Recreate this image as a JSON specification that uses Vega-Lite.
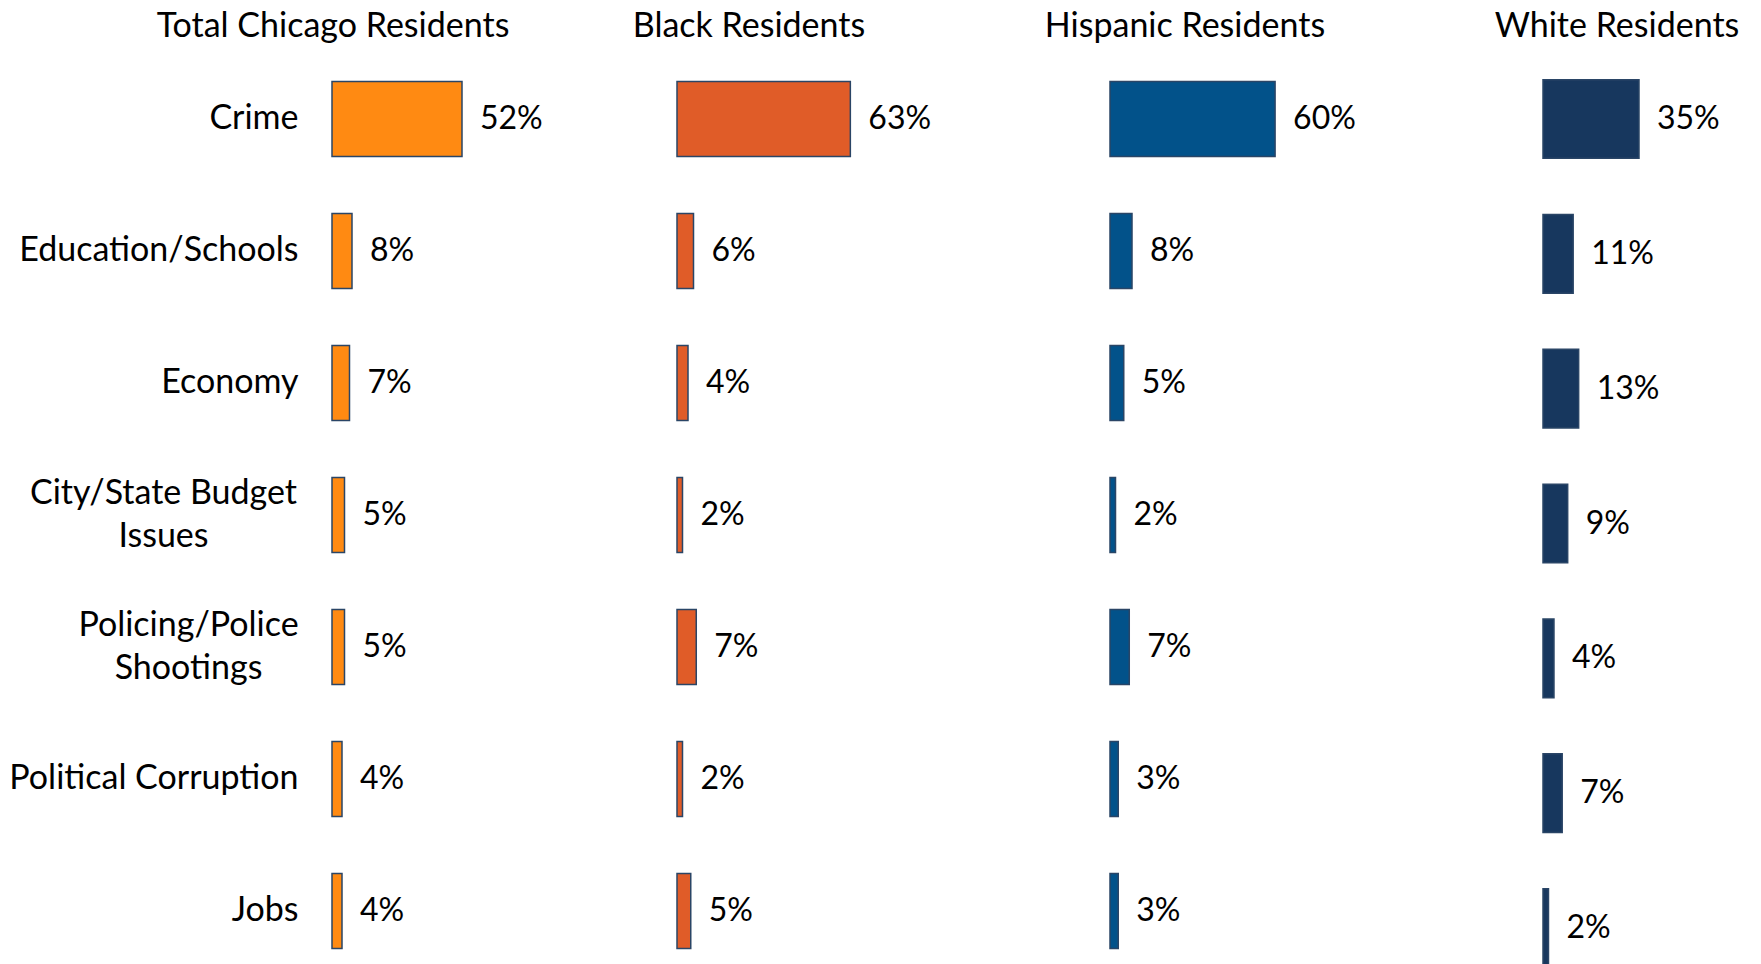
{
  "$schema": "https://vega.github.io/schema/vega-lite/v6.json",
  "background": "white",
  "padding": {"left": 8, "top": 10, "right": 0, "bottom": 0},
  "autosize": {"type": "pad"},
  "bounds": "flush",
  "spacing": 195,
  "config": {
    "view": {"stroke": null},
    "font": "Lato",
    "title": {"fontSize": 34, "fontWeight": "normal", "font": "Lato", "color": "#000000", "anchor": "middle", "offset": 9}
  },
  "data": {
    "values": [
      {"group": "Total", "issue": "Crime", "value": 0.52},
      {"group": "Total", "issue": "Education/Schools", "value": 0.08},
      {"group": "Total", "issue": "Economy", "value": 0.07},
      {"group": "Total", "issue": "City/State Budget Issues", "value": 0.05},
      {"group": "Total", "issue": "Policing/Police Shootings", "value": 0.05},
      {"group": "Total", "issue": "Political Corruption", "value": 0.04},
      {"group": "Total", "issue": "Jobs", "value": 0.04},
      {"group": "Black", "issue": "Crime", "value": 0.63},
      {"group": "Black", "issue": "Education/Schools", "value": 0.06},
      {"group": "Black", "issue": "Economy", "value": 0.04},
      {"group": "Black", "issue": "City/State Budget Issues", "value": 0.02},
      {"group": "Black", "issue": "Policing/Police Shootings", "value": 0.07},
      {"group": "Black", "issue": "Political Corruption", "value": 0.02},
      {"group": "Black", "issue": "Jobs", "value": 0.05},
      {"group": "Hispanic", "issue": "Crime", "value": 0.60},
      {"group": "Hispanic", "issue": "Education/Schools", "value": 0.08},
      {"group": "Hispanic", "issue": "Economy", "value": 0.05},
      {"group": "Hispanic", "issue": "City/State Budget Issues", "value": 0.02},
      {"group": "Hispanic", "issue": "Policing/Police Shootings", "value": 0.07},
      {"group": "Hispanic", "issue": "Political Corruption", "value": 0.03},
      {"group": "Hispanic", "issue": "Jobs", "value": 0.03},
      {"group": "White", "issue": "Crime", "value": 0.35},
      {"group": "White", "issue": "Education/Schools", "value": 0.11},
      {"group": "White", "issue": "Economy", "value": 0.13},
      {"group": "White", "issue": "City/State Budget Issues", "value": 0.09},
      {"group": "White", "issue": "Policing/Police Shootings", "value": 0.04},
      {"group": "White", "issue": "Political Corruption", "value": 0.07},
      {"group": "White", "issue": "Jobs", "value": 0.02}
    ]
  },
  "hconcat": [
    {
      "title": {"text": "Total Chicago Residents", "dx": -74},
      "width": 150,
      "height": 924,
      "transform": [{"filter": "datum.group == 'Total'"}],
      "encoding": {
        "y": {
          "field": "issue", "type": "nominal",
          "sort": ["Crime", "Education/Schools", "Economy", "City/State Budget Issues", "Policing/Police Shootings", "Political Corruption", "Jobs"],
          "scale": {"paddingInner": 0.43, "paddingOuter": 0.215},
          "axis": {
            "title": null, "domain": false, "ticks": false, "grid": false,
            "labelFont": "Lato", "labelFontSize": 34, "labelColor": "#000000",
            "labelLimit": 400, "labelLineHeight": 43,
            "labelExpr": "datum.value == 'City/State Budget Issues' ? ['City/State Budget', 'Issues'] : datum.value == 'Policing/Police Shootings' ? ['Policing/Police', 'Shootings'] : datum.value",
            "labelAlign": {"condition": {"test": "datum.value == 'City/State Budget Issues' || datum.value == 'Policing/Police Shootings'", "value": "center"}, "value": "right"},
            "labelPadding": {"condition": [
              {"test": "datum.value == 'City/State Budget Issues'", "value": 169},
              {"test": "datum.value == 'Policing/Police Shootings'", "value": 144}
            ], "value": 34},
            "labelOffset": {"condition": {"test": "datum.value == 'City/State Budget Issues' || datum.value == 'Policing/Police Shootings'", "value": -21}, "value": 0}
          }
        },
        "x": {"field": "value", "type": "quantitative", "scale": {"domain": [0, 0.6]}, "axis": null}
      },
      "layer": [
        {"mark": {"type": "bar", "color": "#FF8A12", "stroke": "#2A4566", "strokeWidth": 1.5}},
        {"mark": {"type": "text", "align": "left", "baseline": "middle", "dx": 18, "fontSize": 32, "font": "Lato", "color": "#000000"},
         "encoding": {"text": {"field": "value", "type": "quantitative", "format": ".0%"}}}
      ]
    },
    {
      "title": {"text": "Black Residents", "dx": -47},
      "width": 238,
      "height": 924,
      "transform": [{"filter": "datum.group == 'Black'"}],
      "encoding": {
        "y": {
          "field": "issue", "type": "nominal",
          "sort": ["Crime", "Education/Schools", "Economy", "City/State Budget Issues", "Policing/Police Shootings", "Political Corruption", "Jobs"],
          "scale": {"paddingInner": 0.43, "paddingOuter": 0.215},
          "axis": null
        },
        "x": {"field": "value", "type": "quantitative", "scale": {"domain": [0, 0.865]}, "axis": null}
      },
      "layer": [
        {"mark": {"type": "bar", "color": "#E05C28", "stroke": "#2A4566", "strokeWidth": 1.5}},
        {"mark": {"type": "text", "align": "left", "baseline": "middle", "dx": 18, "fontSize": 32, "font": "Lato", "color": "#000000"},
         "encoding": {"text": {"field": "value", "type": "quantitative", "format": ".0%"}}}
      ]
    },
    {
      "title": {"text": "Hispanic Residents", "dx": -44},
      "width": 238,
      "height": 924,
      "transform": [{"filter": "datum.group == 'Hispanic'"}],
      "encoding": {
        "y": {
          "field": "issue", "type": "nominal",
          "sort": ["Crime", "Education/Schools", "Economy", "City/State Budget Issues", "Policing/Police Shootings", "Political Corruption", "Jobs"],
          "scale": {"paddingInner": 0.43, "paddingOuter": 0.215},
          "axis": null
        },
        "x": {"field": "value", "type": "quantitative", "scale": {"domain": [0, 0.865]}, "axis": null}
      },
      "layer": [
        {"mark": {"type": "bar", "color": "#02528A", "stroke": "#2A4566", "strokeWidth": 1.5}},
        {"mark": {"type": "text", "align": "left", "baseline": "middle", "dx": 18, "fontSize": 32, "font": "Lato", "color": "#000000"},
         "encoding": {"text": {"field": "value", "type": "quantitative", "format": ".0%"}}}
      ]
    },
    {
      "title": {"text": "White Residents", "dx": -22},
      "width": 192,
      "height": 941,
      "transform": [{"filter": "datum.group == 'White'"}],
      "encoding": {
        "y": {
          "field": "issue", "type": "nominal",
          "sort": ["Crime", "Education/Schools", "Economy", "City/State Budget Issues", "Policing/Police Shootings", "Political Corruption", "Jobs"],
          "scale": {"paddingInner": 0.417, "paddingOuter": 0.198},
          "axis": null
        },
        "x": {"field": "value", "type": "quantitative", "scale": {"domain": [0, 0.7]}, "axis": null}
      },
      "layer": [
        {"mark": {"type": "bar", "color": "#17375E", "stroke": "#2A4566", "strokeWidth": 1.5}},
        {"mark": {"type": "text", "align": "left", "baseline": "middle", "dx": 18, "fontSize": 32, "font": "Lato", "color": "#000000"},
         "encoding": {"text": {"field": "value", "type": "quantitative", "format": ".0%"}}}
      ]
    }
  ]
}
